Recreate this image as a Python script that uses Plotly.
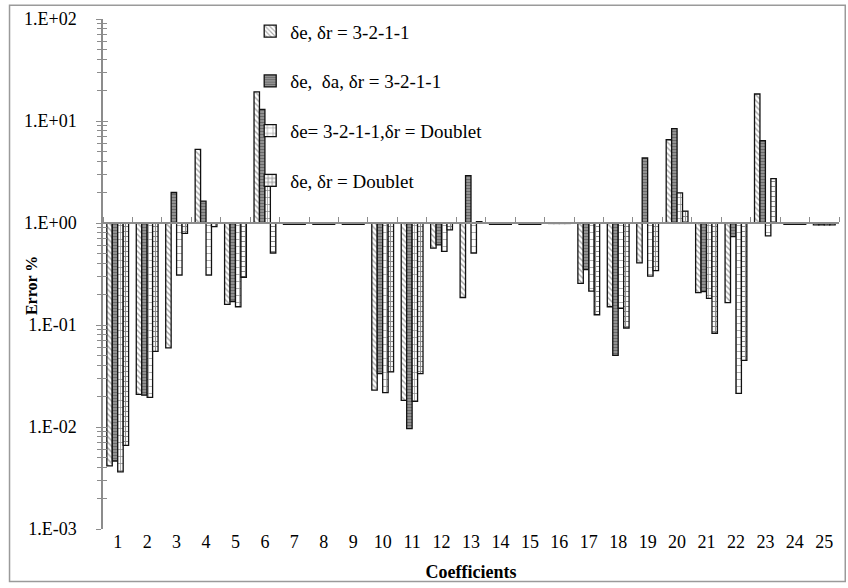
import plotly.graph_objects as go

# Coefficient index on the category axis
coefficients = [1, 2, 3, 4, 5, 6, 7, 8, 9, 10, 11, 12, 13,
                14, 15, 16, 17, 18, 19, 20, 21, 22, 23, 24, 25]

# Error % per coefficient for each input combination
err_e_r_3211 = [0.00415, 0.0209, 0.0598, 5.27, 0.159, 19.3, 0.97, 0.97, 0.97,
                0.0230, 0.0182, 0.567, 0.186, 0.97, 0.97, 0.99, 0.256, 0.151,
                0.406, 6.55, 0.208, 0.166, 18.4, 0.97, 0.96]
err_e_a_r_3211 = [0.00464, 0.0205, 1.99, 1.64, 0.170, 13.0, 0.97, 0.97, 0.97,
                  0.0334, 0.00964, 0.611, 2.92, 0.97, 0.97, 0.99, 0.350, 0.0503,
                  4.34, 8.41, 0.212, 0.736, 6.40, 0.97, 0.96]
err_e3211_r_doublet = [0.00363, 0.0195, 0.308, 0.308, 0.151, 2.50, 0.97, 0.97, 0.97,
                       0.0217, 0.0178, 0.526, 0.508, 0.97, 0.97, 0.99, 0.215, 0.146,
                       0.301, 1.97, 0.182, 0.0214, 0.748, 0.97, 0.96]
err_e_r_doublet = [0.00659, 0.0551, 0.79, 0.92, 0.294, 0.508, 0.97, 0.97, 0.97,
                   0.0347, 0.0334, 0.855, 1.03, 0.97, 0.97, 0.99, 0.126, 0.0935,
                   0.342, 1.31, 0.083, 0.045, 2.72, 0.97, 0.96]

series_names = ["δe, δr = 3-2-1-1",
                "δe,\u00a0 δa, δr = 3-2-1-1",
                "δe= 3-2-1-1,δr = Doublet",
                "δe, δr = Doublet"]

# Decade ticks of the log axis
decade_vals = [1e-3, 1e-2, 1e-1, 1e0, 1e1, 1e2]
decade_text = ["1.E-03", "1.E-02", "1.E-01", "1.E+00", "1.E+01", "1.E+02"]

FONT = "Times New Roman, Liberation Serif, DejaVu Serif, serif"
AXIS_GRAY = "#8c8c8c"

styles = [
    dict(bg="white", fg="#4a4a4a", shape="\\", size=4, solidity=0.35),
    dict(bg="#9a9a9a", fg="#3a3a3a", shape="-", size=3, solidity=0.45),
    dict(bg="white", fg="#222222", shape="+", size=7, solidity=0.2),
    dict(bg="white", fg="#1a1a1a", shape="+", size=5, solidity=0.4),
]

fig = go.Figure()
all_series = [err_e_r_3211, err_e_a_r_3211, err_e3211_r_doublet, err_e_r_doublet]
for i, (name, vals, st) in enumerate(zip(series_names, all_series, styles)):
    # bars hang from the 1.0 crossing line of the log axis
    fig.add_trace(go.Bar(
        x=coefficients,
        y=[v - 1 for v in vals],
        base=1,
        customdata=vals,
        hovertemplate="%{x}: %{customdata}<extra></extra>",
        name=name,
        legendgroup=f"g{i}",
        marker=dict(
            color=st["bg"],
            line=dict(color="#111111", width=1.3),
            pattern=dict(shape=st["shape"], fgcolor=st["fg"], bgcolor=st["bg"],
                         size=st["size"], solidity=st["solidity"],
                         fillmode="overlay"),
        ),
    ))

# helper traces so the overlay axes get drawn
fig.add_trace(go.Scatter(x=[], y=[], yaxis="y2", showlegend=False, hoverinfo="skip"))
fig.add_trace(go.Scatter(x=[], y=[], xaxis="x2", showlegend=False, hoverinfo="skip"))

fig.update_layout(
    width=848, height=588, autosize=False,
    margin=dict(l=103, r=9, t=17, b=56),
    paper_bgcolor="white", plot_bgcolor="white",
    font=dict(family=FONT, size=18, color="black"),
    barmode="group", bargap=0.26, bargroupgap=0,
    xaxis=dict(
        range=[0.5, 25.5], tickvals=coefficients, ticks="", showline=False,
        showgrid=False, zeroline=False, tickfont=dict(family=FONT, size=18),
        title=dict(text="<b>Coefficients</b>", font=dict(family=FONT, size=18),
                   standoff=14),
    ),
    xaxis2=dict(
        overlaying="x", anchor="free", position=0.6, side="top",
        range=[0.5, 25.5], tick0=0.5, dtick=1, ticks="outside", ticklen=5,
        tickcolor=AXIS_GRAY, showticklabels=False, showline=True,
        linecolor=AXIS_GRAY, linewidth=1.5, showgrid=False, zeroline=False,
    ),
    yaxis=dict(
        type="log", range=[-3, 2], tickvals=decade_vals, ticktext=decade_text,
        ticks="outside", ticklen=5, tickcolor=AXIS_GRAY, tickwidth=1,
        ticklabelstandoff=16,
        minor=dict(ticks="outside", ticklen=4, tickcolor=AXIS_GRAY, dtick="D1",
                   showgrid=False),
        showline=True, linecolor=AXIS_GRAY, linewidth=1.5, showgrid=False,
        zeroline=False, tickfont=dict(family=FONT, size=18),
    ),
    yaxis2=dict(
        type="log", range=[-3, 2], overlaying="y", side="left", anchor="x",
        tickvals=decade_vals, ticks="inside", ticklen=5, tickcolor=AXIS_GRAY,
        minor=dict(ticks="inside", ticklen=4, tickcolor=AXIS_GRAY, dtick="D1",
                   showgrid=False),
        showticklabels=False, showline=False, showgrid=False, zeroline=False,
    ),
    legend=dict(
        x=0.2, y=1.013, xanchor="left", yanchor="top",
        bgcolor="rgba(0,0,0,0)", font=dict(family=FONT, size=19),
        tracegroupgap=22, itemwidth=30,
    ),
    annotations=[dict(
        text="<b>Error %</b>", textangle=-90, xref="paper", yref="paper",
        x=-0.098, y=0.478, xanchor="center", yanchor="middle", showarrow=False,
        font=dict(family=FONT, size=16),
    )],
    shapes=[dict(
        type="rect", xref="paper", yref="paper",
        x0=-0.127, x1=1.0085, y0=-0.103, y1=1.027,
        line=dict(color="#9a9a9a", width=1.5), fillcolor="rgba(0,0,0,0)",
        layer="below",
    )],
)

fig.write_html("out.html")
